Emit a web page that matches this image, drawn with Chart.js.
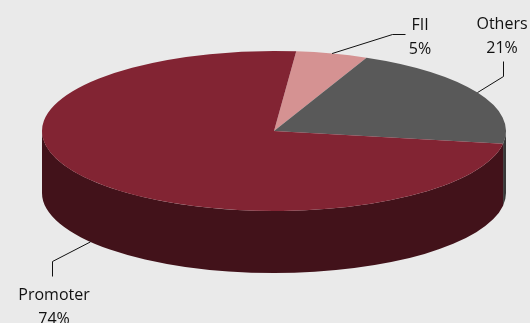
<!DOCTYPE html>
<html><head><meta charset="utf-8">
<script src="https://cdn.jsdelivr.net/npm/chart.js@4.4.0/dist/chart.umd.min.js"></script>
<style>html,body{margin:0;padding:0;background:#eaeaea;overflow:hidden}#wrap{width:530px;height:323px;position:relative}</style>
</head><body><div id="wrap"><canvas id="c" width="530" height="323"></canvas></div>
<script>
const categories = ['FII', 'Others', 'Promoter'];
const shares = [5, 21, 74];
const topColors = ['#d59292', '#595959', '#822433'];
const sideColors = ['#8a5050', '#383838', '#42121a'];

// projection of the pie (screen space)
const VIEW = { cx: 274, cy: 131, rx: 232, ry: 80, depth: 62 };
// label layout: elbow/end of leader line and text anchor
const LABELS = [
  { elbow: [392, 34], end: [405, 34], text: [420, 30], onSide: false },
  { elbow: [503, 76], end: [503, 61], text: [502, 29], onSide: false },
  { elbow: [52, 261], end: [52, 276], text: [54, 300], onSide: true }
];

const tilt = {
  id: 'tilt3d',
  beforeDatasetsDraw(chart) {
    const ctx = chart.ctx;
    const arcs = chart.getDatasetMeta(0).data;
    const { cx, cy, rx, ry, depth } = VIEW;
    // sides (visible front half: angles 0..PI)
    arcs.forEach((a, i) => {
      const s = a.startAngle, e = a.endAngle;
      for (let k = -1; k <= 1; k++) {
        const lo = Math.max(s, 2 * Math.PI * k), hi = Math.min(e, 2 * Math.PI * k + Math.PI);
        if (hi <= lo) continue;
        ctx.beginPath();
        ctx.ellipse(cx, cy, rx, ry, 0, lo, hi, false);
        ctx.lineTo(cx + rx * Math.cos(hi), cy + depth + ry * Math.sin(hi));
        ctx.ellipse(cx, cy + depth, rx, ry, 0, hi, lo, true);
        ctx.closePath();
        ctx.fillStyle = sideColors[i];
        ctx.fill();
      }
    });
    const R = arcs[0].outerRadius;
    ctx.save();
    ctx.translate(cx, cy);
    ctx.scale(rx / R, ry / R);
    ctx.translate(-arcs[0].x, -arcs[0].y);
  },
  afterDatasetsDraw(chart) {
    const ctx = chart.ctx;
    ctx.restore();
    const arcs = chart.getDatasetMeta(0).data;
    const { cx, cy, rx, ry, depth } = VIEW;
    ctx.save();
    ctx.strokeStyle = '#111';
    ctx.lineWidth = 1;
    ctx.fillStyle = '#111';
    ctx.font = '16px "Open Sans"';
    ctx.textAlign = 'center';
    ctx.textBaseline = 'alphabetic';
    arcs.forEach((a, i) => {
      const m = (a.startAngle + a.endAngle) / 2;
      const L = LABELS[i];
      const ax = cx + rx * Math.cos(m);
      const ay = cy + ry * Math.sin(m) + (L.onSide ? depth : 0);
      ctx.beginPath();
      ctx.moveTo(ax, ay);
      ctx.lineTo(L.elbow[0] + 0.5, L.elbow[1] + 0.5);
      ctx.lineTo(L.end[0] + 0.5, L.end[1] + 0.5);
      ctx.stroke();
      const total = shares.reduce((p, q) => p + q, 0);
      ctx.fillText(categories[i], L.text[0], L.text[1]);
      ctx.fillText(Math.round(shares[i] / total * 100) + '%', L.text[0], L.text[1] + 24);
    });
    ctx.restore();
  }
};

new Chart(document.getElementById('c'), {
  type: 'pie',
  data: { labels: categories, datasets: [{ data: shares, backgroundColor: topColors, borderWidth: 0 }] },
  options: {
    responsive: false,
    animation: false,
    rotation: 5.5,
    layout: { padding: 0 },
    plugins: { legend: { display: false }, tooltip: { enabled: false } }
  },
  plugins: [tilt]
});
</script></body></html>
